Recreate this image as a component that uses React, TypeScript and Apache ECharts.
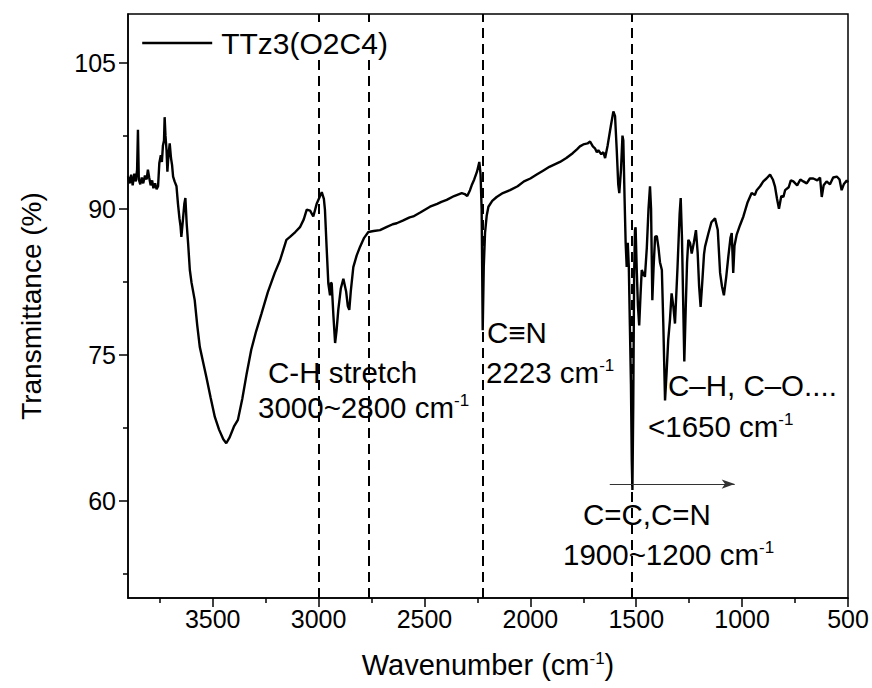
import React, { useEffect, useRef } from 'react';
import * as echarts from 'echarts';

const seriesName = 'TTz3(O2C4)';

const wavenumbers = [
  3900, 3892, 3885, 3878, 3870, 3863, 3857, 3853, 3849, 3842, 3835, 3828, 3820, 3812, 3806, 3800,
  3793, 3786, 3780, 3772, 3765, 3758, 3752, 3745, 3740, 3735, 3730, 3727, 3723, 3718, 3714, 3709,
  3703, 3697, 3692, 3687, 3680, 3671, 3664, 3657, 3652, 3648, 3640, 3634, 3629, 3623, 3616, 3608,
  3600, 3585, 3573, 3561, 3545, 3530, 3510, 3490, 3470, 3450, 3436, 3420, 3400, 3381, 3360, 3340,
  3318, 3295, 3270, 3240, 3207, 3182, 3152, 3135, 3110, 3088, 3070, 3056, 3040, 3025, 3015, 3009,
  2995, 2985, 2975, 2970, 2962, 2954, 2946, 2942, 2938, 2930, 2922, 2915, 2907, 2895, 2883, 2870,
  2862, 2855, 2848, 2836, 2820, 2804, 2785, 2765, 2740, 2710, 2680, 2650, 2631, 2600, 2570, 2553,
  2520, 2490, 2474, 2440, 2420, 2395, 2360, 2324, 2310, 2298, 2285, 2277, 2265, 2252, 2241, 2235,
  2230, 2225, 2220, 2214, 2206, 2198, 2180, 2159, 2130, 2096, 2060, 2030, 2000, 1970, 1940, 1910,
  1880, 1860, 1830, 1800, 1780, 1766, 1750, 1730, 1718, 1705, 1695, 1686, 1679, 1665, 1655, 1647,
  1635, 1620, 1608, 1600, 1592, 1585, 1580, 1572, 1565, 1561, 1555, 1550, 1545, 1540, 1535, 1530,
  1525, 1521, 1518, 1514, 1510, 1506, 1503, 1498, 1492, 1486, 1480, 1474, 1466, 1459, 1450, 1442,
  1435, 1430, 1424, 1418, 1411, 1403, 1395, 1388, 1379, 1372, 1364, 1357, 1349, 1341, 1333, 1325,
  1317, 1305, 1295, 1290, 1284, 1278, 1273, 1266, 1260, 1254, 1246, 1238, 1228, 1218, 1210, 1203,
  1196, 1188, 1180, 1175, 1160, 1145, 1128, 1115, 1104, 1095, 1086, 1075, 1065, 1055, 1049, 1042,
  1036, 1026, 1010, 994, 975, 955, 940, 931, 915, 900, 885, 868, 855, 845, 835, 826,
  815, 805, 797, 780, 770, 758, 740, 725, 711, 695, 680, 664, 645, 632, 624, 615,
  601, 585, 570, 553, 540, 530, 520, 506, 500,
];

const transmittance = [
  93.3, 92.6, 93.5, 92.4, 93.6, 92.8, 94.0, 98.1, 93.0, 92.5, 93.2, 92.6, 93.4, 93.0, 94.0, 93.2,
  92.4, 92.9, 92.1, 92.6, 92.0, 92.3, 94.7, 95.5, 94.8, 96.5, 97.0, 99.4, 97.5, 96.0, 93.8, 95.5,
  96.7, 95.2, 94.5, 93.3, 92.8, 92.3, 90.5, 89.0, 88.2, 87.1, 89.0, 90.5, 91.1, 88.5, 86.4, 83.7,
  82.4, 80.6, 78.0, 75.8, 74.2, 72.7, 70.6, 68.6, 67.3, 66.3, 65.9, 66.5, 67.6, 68.3, 70.5, 73.0,
  75.5, 77.4, 79.2, 81.4, 83.4, 84.7, 86.8, 87.1, 87.6, 88.1, 88.9, 89.9, 89.8, 89.2, 90.0, 90.5,
  91.2, 91.7, 91.0, 89.9, 86.0, 82.3, 81.1, 82.4, 82.3, 79.0, 76.2, 77.5, 79.6, 81.8, 82.8, 81.5,
  80.0, 79.6, 81.5, 84.0, 85.2, 86.1, 87.0, 87.6, 87.7, 87.8, 88.1, 88.4, 88.5, 88.8, 89.1, 89.2,
  89.6, 90.0, 90.2, 90.5, 90.7, 90.9, 91.3, 91.6, 91.5, 91.3, 91.9, 92.4, 93.0, 93.8, 94.8, 93.5,
  89.9, 77.5, 84.0, 87.5, 89.3, 90.2, 90.8, 91.2, 91.6, 91.9, 92.3, 92.8, 93.1, 93.5, 93.9, 94.3,
  94.6, 94.8, 95.2, 95.7, 96.1, 96.4, 96.6, 96.7, 96.9, 96.4, 96.2, 95.8, 96.0, 95.6, 95.8, 95.2,
  96.5, 98.5, 100.0, 99.5, 96.0, 92.5, 91.6, 94.0, 97.5, 97.0, 91.0, 86.5, 84.0, 86.5, 84.0, 78.0,
  72.0, 64.0, 61.1, 70.0, 83.0, 87.8, 88.1, 84.0, 80.0, 78.0, 81.0, 83.7, 83.3, 83.0, 86.0, 90.0,
  92.3, 90.0, 80.6, 84.0, 87.1, 87.2, 86.0, 84.5, 83.7, 78.0, 70.3, 73.0, 76.5, 78.5, 81.3, 80.0,
  78.2, 84.0, 89.5, 91.1, 87.0, 80.0, 74.3, 80.0, 84.5, 86.8, 86.5, 85.4, 86.5, 87.8, 85.5, 82.0,
  79.9, 82.5, 85.3, 86.1, 87.4, 88.6, 89.0, 87.8, 83.4, 82.0, 81.1, 83.0, 85.1, 87.0, 87.5, 83.4,
  86.2, 87.3, 88.3, 89.2, 90.6, 91.6, 91.4, 91.9, 92.3, 92.8, 93.1, 93.5, 93.0, 92.3, 91.0, 90.0,
  91.3, 91.2, 91.9, 92.2, 92.9, 92.8, 92.4, 93.0, 92.8, 92.6, 93.1, 93.1, 92.9, 93.2, 91.2, 92.4,
  92.8, 92.5, 93.2, 93.3, 93.0, 91.9, 92.5, 92.9, 92.7,
];

const xTickValues = [500, 1000, 1500, 2000, 2500, 3000, 3500];
const xMinorTicks = [750, 1250, 1750, 2250, 2750, 3250, 3750];
const yTickValues = [60, 75, 90, 105];
const yMinorTicks = [52.5, 67.5, 82.5, 97.5];
const markerPositions = [3000, 2765, 2223, 1520];
const arrowFrom = [1625, 61.7];
const arrowTo = [1035, 61.7];

const FONT = '"Liberation Sans", Arial, sans-serif';
const ANNOT_SIZE = 29.5;

export default function App() {
  const ref = useRef<HTMLDivElement>(null);

  useEffect(() => {
    if (!ref.current) return;
    const chart = echarts.init(ref.current, undefined, { renderer: 'svg' });
    const seriesData = wavenumbers.map((w, i) => [w, transmittance[i]]);

    const axisLineStyle = { color: '#000', width: 1.5 };
    const plainLabel = (v: number) => String(v);
    const annotRich = {
      a: { fontSize: ANNOT_SIZE, fontFamily: FONT, fill: '#000', color: '#000' },
      s: { fontSize: 17, fontFamily: FONT, fill: '#000', color: '#000', verticalAlign: 'top' },
    };
    const annot = (x: number, y: number, text: string) => ({
      type: 'text',
      x,
      y,
      z: 10,
      silent: true,
      style: {
        text,
        rich: annotRich,
        fontSize: ANNOT_SIZE,
        fontFamily: FONT,
        fill: '#000',
        align: 'left',
        verticalAlign: 'middle',
      },
    });

    const option: any = {
      animation: false,
      backgroundColor: '#fff',
      grid: {
        left: 128,
        top: 14,
        right: 24,
        bottom: 90,
        show: true,
        borderColor: '#000',
        borderWidth: 1.5,
        backgroundColor: 'transparent',
      },
      legend: {
        data: [seriesName],
        left: 141,
        top: 28,
        z: 20,
        itemWidth: 70,
        itemHeight: 14,
        padding: [0, 3, 0, 0],
        backgroundColor: '#fff',
        itemStyle: { opacity: 0 },
        lineStyle: { width: 2.4, color: '#000' },
        textStyle: { fontSize: 30, color: '#000', fontFamily: FONT, padding: [0, 0, 0, 4] },
      },
      xAxis: [
        {
          type: 'value',
          min: 500,
          max: 3900,
          inverse: true,
          position: 'bottom',
          axisLine: { show: true, lineStyle: axisLineStyle },
          axisTick: { show: true, length: 9, lineStyle: axisLineStyle, customValues: xTickValues },
          axisLabel: {
            fontSize: 25,
            color: '#000',
            fontFamily: FONT,
            margin: 8,
            customValues: xTickValues,
            formatter: plainLabel,
          },
          splitLine: { show: false },
          name: '{a|Wavenumber (cm}{s|-1}{a|)}',
          nameLocation: 'middle',
          nameGap: 52,
          nameTextStyle: {
            rich: {
              a: { fontSize: 29, color: '#000', fontFamily: FONT },
              s: { fontSize: 17, color: '#000', fontFamily: FONT, verticalAlign: 'top' },
            },
          },
        },
        {
          type: 'value',
          min: 500,
          max: 3900,
          inverse: true,
          position: 'bottom',
          axisLine: { show: false },
          axisTick: { show: true, length: 5, lineStyle: axisLineStyle, customValues: xMinorTicks },
          axisLabel: { show: false },
          splitLine: { show: false },
        },
      ],
      yAxis: [
        {
          type: 'value',
          min: 50,
          max: 110,
          position: 'left',
          axisLine: { show: true, lineStyle: axisLineStyle },
          axisTick: { show: true, length: 9, lineStyle: axisLineStyle, customValues: yTickValues },
          axisLabel: {
            fontSize: 25,
            color: '#000',
            fontFamily: FONT,
            margin: 12,
            customValues: yTickValues,
            formatter: plainLabel,
          },
          splitLine: { show: false },
          name: 'Transmittance (%)',
          nameLocation: 'middle',
          nameGap: 83,
          nameTextStyle: { fontSize: 28, color: '#000', fontFamily: FONT },
        },
        {
          type: 'value',
          min: 50,
          max: 110,
          position: 'left',
          axisLine: { show: false },
          axisTick: { show: true, length: 5, lineStyle: axisLineStyle, customValues: yMinorTicks },
          axisLabel: { show: false },
          splitLine: { show: false },
        },
      ],
      series: [
        {
          name: seriesName,
          type: 'line',
          xAxisIndex: 0,
          yAxisIndex: 0,
          data: seriesData,
          symbol: 'none',
          smooth: false,
          lineStyle: { color: '#000', width: 2.4 },
          itemStyle: { color: '#000' },
          emphasis: { disabled: true },
          markLine: {
            silent: true,
            symbol: ['none', 'none'],
            label: { show: false },
            emphasis: { disabled: true },
            lineStyle: { color: '#000', width: 2, type: [10, 6] },
            data: [
              ...markerPositions.map((v) => ({ xAxis: v })),
              [
                { coord: arrowFrom, symbol: 'none', lineStyle: { color: '#333', width: 1.2, type: 'solid' } },
                { coord: arrowTo, symbol: 'arrow', symbolSize: [7, 13] },
              ],
            ],
          },
        },
      ],
      graphic: [
        annot(268, 372, 'C-H stretch'),
        annot(258, 407, '{a|3000~2800 cm}{s|-1}'),
        annot(487, 332, 'C≡N'),
        annot(486, 372, '{a|2223 cm}{s|-1}'),
        annot(668, 385, 'C–H, C–O....'),
        annot(648, 426, '{a|<1650 cm}{s|-1}'),
        annot(583, 514, 'C=C,C=N'),
        annot(563, 554, '{a|1900~1200 cm}{s|-1}'),
      ],
    };

    chart.setOption(option);
    return () => chart.dispose();
  }, []);

  return (
    <div
      ref={ref}
      style={{ position: 'fixed', left: 0, top: 0, width: 872, height: 688, background: '#fff' }}
    />
  );
}
